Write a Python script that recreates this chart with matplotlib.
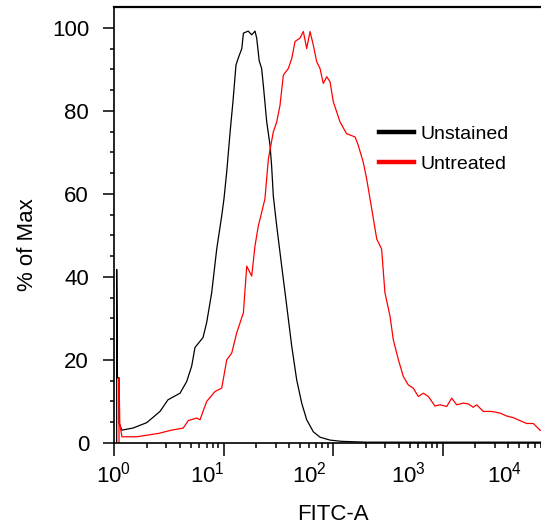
import matplotlib.pyplot as plt
import matplotlib.transforms as mtransforms
import numpy as np

plt.rcParams['font.family'] = ['Liberation Sans', 'DejaVu Sans']

# histogram values (x = FITC-A, y = % of max)
unstained_x = [1.058, 1.058, 1.075, 1.111, 1.111, 1.18, 1.49, 1.99, 2.63, 3.11, 4.01,
               4.61, 5.12, 5.49, 6.50, 7.02, 7.80, 8.67, 9.63, 10.1, 10.7, 11.5, 12.2,
               13.0, 13.6, 14.7, 15.2, 16.8, 18.1, 19.4, 20.1, 21.2, 22.3, 23.1, 24.8,
               26.6, 27.5, 28.5, 30.6, 34.0, 37.8, 42.0, 46.6, 51.8, 57.5, 66.1, 76.1,
               93.9, 120, 200, 10000]
unstained_y = [0, 41.8, 15.7, 15.7, 4.8, 3.1, 3.6, 4.9, 7.6, 10.4, 12.0,
               14.8, 18.5, 23.0, 25.4, 29.0, 36.2, 46.7, 54.7, 58.8, 65.3, 75.0, 82.2,
               91.0, 92.6, 95.0, 98.7, 99.2, 98.3, 99.2, 97.5, 92.0, 90.2, 86.2, 77.4,
               71.7, 66.8, 59.5, 52.3, 42.6, 33.0, 23.3, 15.2, 9.6, 5.6, 2.7, 1.4,
               0.7, 0.4, 0.2, 0.2]

untreated_x = [1.111, 1.111, 1.13, 1.18, 1.61, 2.54, 3.36, 4.29, 4.77, 5.69, 6.10,
               7.02, 8.36, 9.63, 10.7, 11.9, 13.2, 15.2, 16.3, 18.1, 19.4, 20.8, 22.3,
               23.9, 25.7, 28.5, 30.6, 32.8, 35.2, 39.1, 42.0, 45.0, 49.9, 53.6, 57.5,
               61.7, 66.1, 71.0, 76.1, 81.5, 87.6, 93.9, 100.6, 116, 133, 159, 170,
               189, 203, 226, 251, 278, 298, 332, 355, 395, 439, 487, 541, 601, 668,
               742, 854, 949, 1093, 1213, 1348, 1549, 1720, 1911, 2052, 2358, 2813,
               3350, 3857, 4434, 5287, 5875, 6749, 7770, 10000]
untreated_y = [0, 15.7, 4.8, 1.5, 1.5, 2.3, 3.1, 3.6, 5.4, 6.0, 5.6,
               10.0, 12.4, 13.2, 20.0, 21.7, 26.5, 31.4, 42.6, 40.2, 47.5, 52.3, 55.5,
               58.8, 68.4, 74.9, 77.3, 81.3, 88.6, 90.2, 92.6, 96.7, 97.5, 99.1, 95.0,
               99.1, 95.8, 91.8, 90.2, 86.6, 88.2, 87.0, 82.2, 77.3, 74.5, 73.7, 71.7,
               67.6, 63.6, 56.3, 49.1, 46.7, 36.2, 30.5, 24.9, 20.1, 16.0, 14.0, 13.2, 11.2, 12.0,
               11.2, 8.9, 9.2, 8.8, 10.8, 9.2, 9.6, 9.4, 8.6, 9.2, 7.6, 7.6,
               7.2, 6.5, 6.1, 5.2, 4.7, 4.7, 3.1, 2.0]

decades = [1, 10, 100, 1000, 10000]
decade_labels = ['$\\mathregular{10^{0}}$', '$\\mathregular{10^{1}}$', '$\\mathregular{10^{2}}$',
                 '$\\mathregular{10^{3}}$', '$\\mathregular{10^{4}}$']
# the labels sit a little left of their decade ticks in the original
label_pos = [1.0, 7.06, 60.4, 484, 3650]

fig = plt.figure(figsize=(5.41, 5.28), dpi=100)
ax = fig.add_axes([114 / 541, 85 / 528, 438 / 541, 436 / 528])

ax.plot(unstained_x, unstained_y, color='black', lw=0.9, label='Unstained')
ax.plot(untreated_x, untreated_y, color='#ff0000', lw=0.9, label='Untreated')

ax.set_xscale('log')
ax.set_xlim(1, 10000)
ax.set_ylim(0, 105)

ax.set_xticks(decades)
ax.set_xticklabels([''] * len(decades))
ax.set_xticks([m * d for d in decades[:-1] for m in range(2, 10)], minor=True)
ax.set_xticklabels([], minor=True)
ax.set_yticks(np.arange(0, 101, 20))
ax.set_yticks(np.arange(0, 105, 5), minor=True)

ax.tick_params(axis='y', which='major', length=8, width=1.1, labelsize=16, pad=10)
ax.tick_params(axis='y', which='minor', length=3.2, width=1.1)
ax.tick_params(axis='x', which='major', length=9, width=1.1)
ax.tick_params(axis='x', which='minor', length=3.8, width=1.1)

trans = mtransforms.blended_transform_factory(ax.transData, ax.transAxes)
for pos, lab in zip(label_pos, decade_labels):
    ax.text(pos, -0.043, lab, transform=trans, ha='center', va='top', fontsize=16)

for s in ax.spines.values():
    s.set_linewidth(1.2)
ax.spines['top'].set_linewidth(1.6)

ax.set_xlabel('FITC-A', fontsize=16)
ax.xaxis.set_label_coords(0.5, -0.14)
ax.set_ylabel('% of Max', fontsize=16)
ax.yaxis.set_label_coords(-0.174, 0.454)

leg = ax.legend(loc='upper left', bbox_to_anchor=(0.605, 0.729), frameon=False,
                fontsize=14, handlelength=1.8, handletextpad=0.35, labelspacing=0.65,
                borderpad=0, borderaxespad=0)
for line in leg.get_lines():
    line.set_linewidth(3.2)

fig.savefig('out.png', dpi=100)
